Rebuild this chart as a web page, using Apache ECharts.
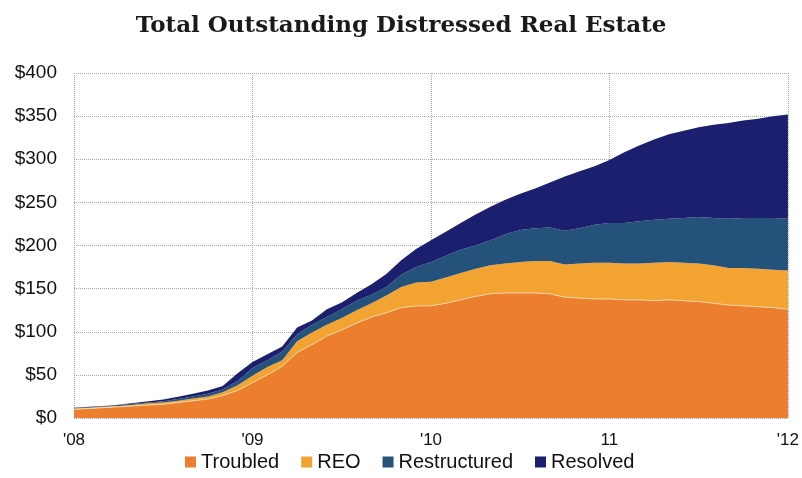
<!DOCTYPE html>
<html>
<head>
<meta charset="utf-8">
<script src="https://cdn.jsdelivr.net/npm/echarts@6/dist/echarts.min.js"></script>
<style>
  html, body { margin: 0; padding: 0; background: #fff; }
  #chart { width: 802px; height: 478px; }
</style>
</head>
<body>
<div id="chart"></div>
<script>
// monthly points, Jan '08 .. Jan '12
const months = Array.from({length: 49}, (_, i) => String(i));
const yearLabels = {0: "'08", 12: "'09", 24: "'10", 36: '11', 48: "'12"};

const troubled = [10, 11, 12, 13, 14, 15, 16, 18, 20, 22, 26, 32, 41, 50, 60, 76, 85, 95, 102, 110, 117, 122, 128, 130, 130,
  133, 137, 141, 144, 145, 145, 145, 144, 140, 139, 138, 138, 137, 137, 136, 137, 136, 135, 133, 131, 130, 129, 128, 126];
const reo = [1, 1, 1, 1, 1.5, 2, 2, 2, 2.5, 3, 4, 6, 8, 9, 7, 13, 14, 13, 14, 15, 16, 20, 24, 27, 28,
  30, 31, 32, 33, 34, 36, 37, 38, 38, 40, 42, 42, 42, 42, 44, 44, 44, 44, 44, 43, 44, 44, 44, 45];
const restructured = [0.5, 0.5, 0.5, 1, 1, 1, 1.5, 2, 2.5, 3, 3, 5, 9, 8, 10, 8, 9, 9, 10, 11, 10, 10, 14, 18, 23,
  25, 27, 27, 29, 34, 37, 38, 39, 39, 41, 44, 46, 47, 49, 50, 50, 52, 54, 55, 57, 58, 59, 60, 60];
const resolved = [0.5, 0.5, 0.5, 0.5, 1, 1.5, 2, 2.5, 3, 4, 4, 9, 7, 7, 6, 8, 5, 9, 8, 9, 12, 15, 17, 21, 25,
  28, 31, 36, 39, 40, 42, 46, 52, 63, 66, 68, 73, 82, 88, 93, 98, 101, 104, 108, 111, 113, 115, 118, 121];

const chart = echarts.init(document.getElementById('chart'));

function areaSeries(name, data, color, line) {
  return {
    name: name,
    type: 'line',
    stack: 'total',
    data: data,
    symbol: 'none',
    smooth: false,
    itemStyle: {color: color},
    lineStyle: line || {width: 0},
    areaStyle: {color: color, opacity: 1}
  };
}

chart.setOption({
  animation: false,
  title: {
    text: 'Total Outstanding Distressed Real Estate',
    left: 'center',
    top: 10,
    textStyle: {fontFamily: 'DejaVu Serif', fontWeight: 'bold', fontSize: 23, color: '#1a1a1a'}
  },
  grid: {left: 74, right: 14, top: 73, bottom: 60},
  legend: {
    bottom: 1,
    left: 180,
    icon: 'rect',
    itemWidth: 11,
    itemHeight: 11,
    itemGap: 22,
    textStyle: {fontFamily: 'Liberation Sans', fontSize: 20, color: '#111'},
    data: ['Troubled', 'REO', 'Restructured', 'Resolved']
  },
  xAxis: {
    type: 'category',
    data: months,
    boundaryGap: false,
    axisLine: {show: false},
    axisTick: {show: false},
    axisLabel: {
      interval: (i) => i in yearLabels,
      formatter: (v) => yearLabels[v],
      fontFamily: 'Liberation Sans',
      fontSize: 17,
      color: '#111',
      margin: 14
    },
    splitLine: {
      show: true,
      interval: (i) => i in yearLabels,
      lineStyle: {color: '#a8a8b0', type: 'dotted', width: 1}
    }
  },
  yAxis: {
    type: 'value',
    min: 0,
    max: 400,
    interval: 50,
    axisLine: {show: false},
    axisTick: {show: false},
    axisLabel: {
      formatter: '${value}',
      fontFamily: 'Liberation Sans',
      fontSize: 19,
      color: '#111',
      margin: 17
    },
    splitLine: {lineStyle: {color: '#a8a8b0', type: 'dotted', width: 1}}
  },
  series: [
    areaSeries('Troubled', troubled, '#EC7F2E', {width: 1, color: '#f7d4a4'}),
    areaSeries('REO', reo, '#F2A332'),
    areaSeries('Restructured', restructured, '#25527A'),
    areaSeries('Resolved', resolved, '#1C1F6E')
  ]
});
</script>
</body>
</html>
